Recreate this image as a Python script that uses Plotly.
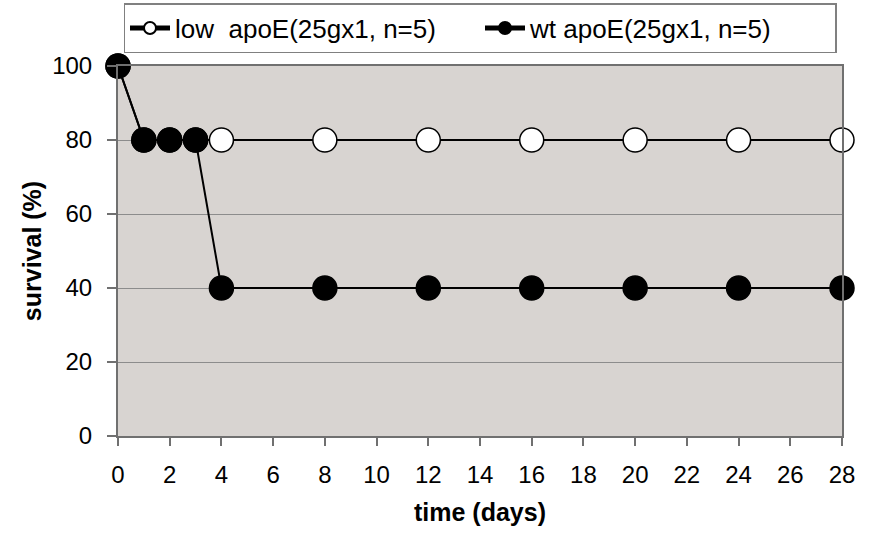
import plotly.graph_objects as go

days = [0, 1, 2, 3, 4, 8, 12, 16, 20, 24, 28]
low_apoE = [100, 80, 80, 80, 80, 80, 80, 80, 80, 80, 80]
wt_apoE = [100, 80, 80, 80, 40, 40, 40, 40, 40, 40, 40]
x_ticks = list(range(0, 29, 2))
y_ticks = [0, 20, 40, 60, 80, 100]

FONT = "Liberation Sans, Arial, sans-serif"

fig = go.Figure()
fig.add_trace(go.Scatter(
    x=days, y=low_apoE, mode="lines+markers",
    name="low  apoE(25gx1, n=5)",
    line=dict(color="black", width=2),
    marker=dict(symbol="circle", size=24, color="white", line=dict(color="black", width=1.5)),
))
fig.add_trace(go.Scatter(
    x=days, y=wt_apoE, mode="lines+markers",
    name="wt apoE(25gx1, n=5)",
    line=dict(color="black", width=2),
    marker=dict(symbol="circle", size=24, color="black", line=dict(color="black", width=1.5)),
))

fig.update_layout(
    width=879, height=533,
    margin=dict(l=118, r=37, t=66, b=97, autoexpand=False),
    paper_bgcolor="white",
    plot_bgcolor="#d8d4d1",
    font=dict(family=FONT, size=24, color="black"),
    showlegend=True,
    legend=dict(
        orientation="h", x=0.5, xanchor="center", y=1.17, yanchor="top",
        bordercolor="#808080", borderwidth=1.5, bgcolor="white",
        font=dict(family=FONT, size=26, color="black"),
        itemsizing="constant", itemwidth=40, tracegroupgap=0,
        entrywidth=300, entrywidthmode="pixels",
    ),
    xaxis=dict(
        range=[0, 28], tickvals=x_ticks, ticktext=[str(t) for t in x_ticks],
        showgrid=False, zeroline=False,
        showline=True, linecolor="#707070", linewidth=2, mirror=True,
        ticks="outside", ticklen=8, tickcolor="#707070", tickwidth=1.5,
        ticklabelstandoff=8,
        tickfont=dict(family=FONT, size=24),
        title=dict(text="<b>time (days)</b>", font=dict(family=FONT, size=25), standoff=17),
    ),
    yaxis=dict(
        range=[0, 100], tickvals=y_ticks, ticktext=[str(t) for t in y_ticks],
        showgrid=True, gridcolor="#8c8c8c", gridwidth=1, zeroline=False,
        showline=True, linecolor="#707070", linewidth=2, mirror=True,
        ticks="outside", ticklen=9, tickcolor="#707070", tickwidth=1.5,
        ticklabelstandoff=10,
        tickfont=dict(family=FONT, size=24),
        title=dict(text="<b>survival (%)</b>", font=dict(family=FONT, size=25), standoff=3),
    ),
)
fig.update_traces(cliponaxis=False)

fig.write_html("out.html")
